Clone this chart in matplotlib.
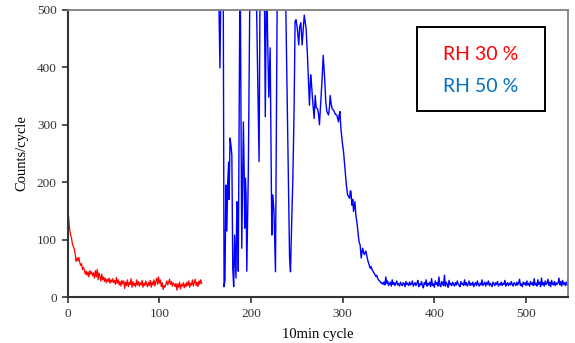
import numpy as np
import matplotlib
matplotlib.use("Agg")
import matplotlib.pyplot as plt
from matplotlib.patches import Rectangle

# RH 30 % series, one value per cycle starting at cycle 0
red_start = 0
red_counts = [157, 135, 118, 108, 103, 92, 88, 84, 75, 62,
              68, 63, 69, 60, 55, 58, 48, 52, 47, 40,
              45, 38, 44, 35, 46, 40, 44, 37, 42, 33,
              46, 35, 48, 30, 42, 36, 28, 40, 30, 35,
              27, 33, 25, 31, 27, 33, 24, 30, 26, 32,
              25, 29, 22, 34, 24, 30, 21, 27, 19, 29,
              23, 28, 15, 26, 20, 30, 18, 25, 22, 32,
              17, 27, 20, 24, 18, 30, 21, 27, 19, 25,
              21, 29, 17, 24, 20, 28, 22, 18, 26, 20,
              29, 17, 26, 21, 30, 19, 27, 33, 22, 35,
              24, 30, 18, 25, 13, 20, 17, 23, 28, 21,
              26, 31, 22, 27, 19, 25, 22, 18, 24, 12,
              23, 17, 26, 14, 22, 19, 25, 16, 23, 18,
              26, 20, 28, 17, 24, 21, 30, 19, 25, 31,
              20, 26, 18, 28, 22, 30, 24]

# RH 50 % series: irregular burst region read point by point
blue_burst_x = [164, 166, 167.5, 169.5, 170.5, 171.5, 172.5, 173.5, 174.5, 175.5,
                176, 177, 178, 179, 180, 181, 182, 183.5, 184.5, 185.5,
                186, 188, 189.8, 191.6, 192.5, 193, 193.8, 194.5, 195.3, 197,
                199, 204, 208.7, 210, 214, 215.5, 217, 217.9, 219.3, 220.8,
                222.6, 223.7, 225, 226.6, 228.8, 233, 237, 242, 243, 244.5,
                245.6, 247, 248, 249, 250.4, 252, 253, 254.3, 255.7, 257,
                258, 259, 260, 261.5, 263.7, 265, 266, 267, 268.8, 270,
                271, 272.5, 273.5, 274.6, 276.5, 277.5, 278.7, 279.5, 280.5, 281.5,
                282.7, 284.5, 285.5, 286.3, 287.5, 288.5, 290, 290.7, 292, 293.6,
                295.4, 296.2, 297, 298, 299.5, 300.9, 302.7, 304, 305.3, 306.5,
                307.5, 308.3, 309, 310, 311, 311.8, 313.3, 314.5, 315.5, 317.3,
                318, 319, 320.2, 321.7, 322.5, 323.5, 325.3, 326.5, 327.5, 329,
                330]
blue_burst_y = [600, 399, 600, 600, 18, 30, 195, 115, 200, 235,
                170, 277, 265, 247, 50, 18, 108, 33, 166, 150,
                45, 600, 85, 305, 210, 120, 207, 180, 45, 220,
                600, 700, 236, 600, 650, 314, 600, 462, 348, 434,
                108, 178, 149, 44, 600, 700, 600, 68, 44, 143,
                207, 334, 480, 483, 468, 439, 470, 478, 439, 470,
                491, 480, 468, 421, 334, 387, 370, 346, 311, 351,
                330, 328, 320, 300, 351, 380, 421, 400, 375, 340,
                323, 317, 330, 351, 335, 328, 325, 323, 318, 317,
                305, 318, 323, 294, 270, 253, 218, 195, 178, 175,
                172, 185, 184, 160, 170, 149, 166, 140, 131, 103,
                95, 91, 68, 85, 80, 74, 80, 70, 63, 55,
                50]

# RH 50 % series tail, one value per cycle starting at cycle 331
blue_tail_start = 331
blue_tail = [53, 48, 45, 42, 40, 36, 38, 33, 30, 28,
             27, 24, 25, 22, 26, 21, 35, 24, 28, 20,
             23, 26, 19, 30, 22, 25, 20, 24, 28, 21,
             23, 19, 26, 22, 20, 25, 23, 18, 27, 22,
             24, 20, 26, 21, 23, 28, 19, 22, 25, 20,
             24, 29, 18, 23, 21, 27, 20, 16, 25, 22,
             30, 19, 24, 21, 26, 18, 32, 20, 23, 17,
             28, 22, 25, 19, 35, 21, 18, 27, 23, 20,
             38, 19, 26, 22, 17, 29, 21, 24, 20, 26,
             22, 19, 25, 21, 28, 23, 20, 18, 27, 22,
             24, 20, 30, 21, 25, 19, 23, 28, 20, 24,
             21, 26, 18, 23, 25, 20, 28, 22, 19, 24,
             21, 30, 20, 23, 26, 19, 25, 22, 28, 20,
             24, 21, 18, 26, 23, 20, 25, 22, 27, 19,
             23, 21, 26, 20, 24, 22, 29, 19, 23, 25,
             20, 24, 21, 27, 22, 19, 25, 23, 20, 26,
             21, 24, 31, 20, 23, 18, 26, 22, 25, 20,
             28, 21, 24, 19, 27, 22, 25, 20, 32, 21,
             24, 19, 30, 22, 26, 18, 33, 21, 25, 19,
             28, 22, 24, 31, 20, 26, 18, 29, 23, 21,
             27, 20, 25, 22, 24, 33, 21, 27, 19, 29,
             22, 25, 20, 26, 21]

x_ticks = [0, 100, 200, 300, 400, 500]
y_ticks = [0, 100, 200, 300, 400, 500]
legend_labels = ["RH 30 %", "RH 50 %"]

red_x = red_start + np.arange(len(red_counts))
tail_x = blue_tail_start + np.arange(len(blue_tail))
blue_x = np.concatenate([blue_burst_x, tail_x])
blue_y = np.concatenate([blue_burst_y, blue_tail])

fig = plt.figure(figsize=(5.75, 3.43), dpi=100)
ax = fig.add_axes([0.118, 0.134, 0.87, 0.837])

ax.plot(red_x, red_counts, color="#FF0000", lw=0.9)
ax.plot(blue_x, blue_y, color="#0000FF", lw=1.0)

ax.set_xlim(0, 546)
ax.set_ylim(0, 500)
ax.set_xticks(x_ticks)
ax.set_yticks(y_ticks)

serif = "Liberation Serif"
for lab in ax.get_xticklabels() + ax.get_yticklabels():
    lab.set_fontfamily(serif)
    lab.set_fontsize(9.5)
    lab.set_color("#333333")
ax.tick_params(direction="out", length=4, width=1.2, color="#333333", pad=4)

for side in ["left", "bottom"]:
    ax.spines[side].set_color("#333333")
    ax.spines[side].set_linewidth(1.5)
for side in ["top", "right"]:
    ax.spines[side].set_color("#808080")
    ax.spines[side].set_linewidth(1.3)

ax.set_xlabel("10min cycle", fontfamily=serif, fontsize=10.5, labelpad=6)
ax.set_ylabel("Counts/cycle", fontfamily=serif, fontsize=10.5, labelpad=6)

# text legend box
ax.add_patch(Rectangle((0.698, 0.648), 0.256, 0.293, transform=ax.transAxes,
                       facecolor="white", edgecolor="black", lw=1.4, zorder=5))
ax.text(0.826, 0.845, legend_labels[0], transform=ax.transAxes, color="#FF0000",
        fontfamily="Lato", fontsize=14, ha="center", va="center", zorder=6)
ax.text(0.826, 0.733, legend_labels[1], transform=ax.transAxes, color="#0070C0",
        fontfamily="Lato", fontsize=14, ha="center", va="center", zorder=6)

fig.savefig("out.png", dpi=100)
